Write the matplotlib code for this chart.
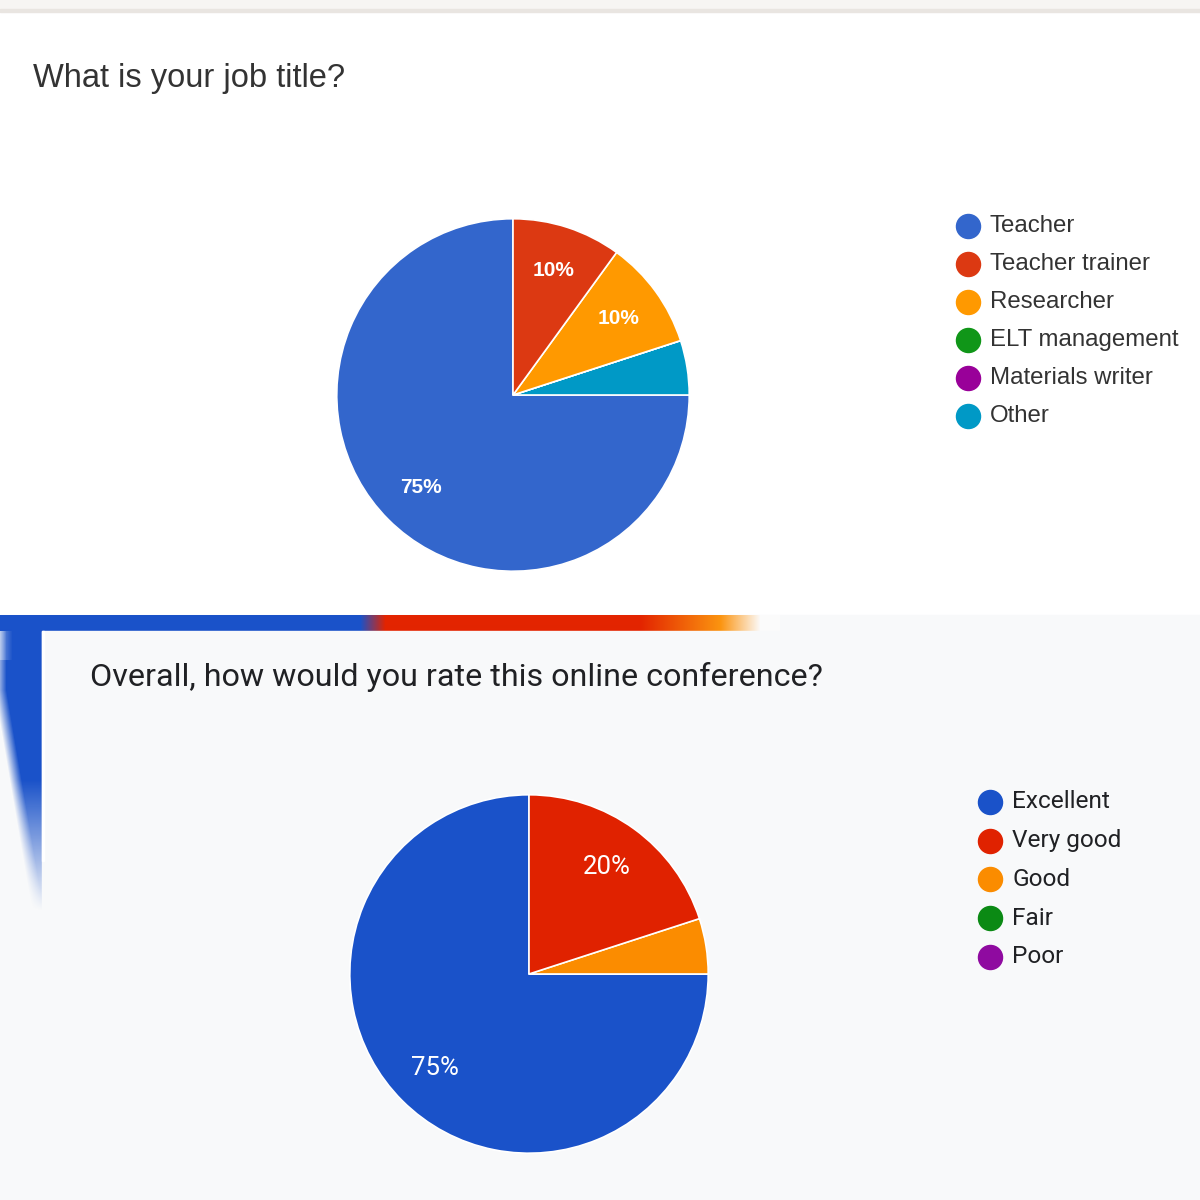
import numpy as np
import matplotlib.pyplot as plt
from matplotlib.patches import Rectangle
from matplotlib.colors import to_rgb

# ---- data ----
job_titles = ['Teacher', 'Teacher trainer', 'Researcher', 'ELT management',
              'Materials writer', 'Other']
job_share = [75, 10, 10, 0, 0, 5]
job_colors = ['#3366cc', '#dc3912', '#ff9900', '#109618', '#990099', '#0099c6']

ratings = ['Excellent', 'Very good', 'Good', 'Fair', 'Poor']
rating_share = [75, 20, 5, 0, 0]
rating_colors = ['#1a52c9', '#e02200', '#fb8c00', '#0b8a14', '#8f0aa0']

W, H = 1200, 1200
CARD = '#f8f9fa'


def px_axes(fig, cx, cy, r):
    """Square axes of radius r (px) centred at cx, cy (px from top-left)."""
    return fig.add_axes([(cx - r) / W, (H - cy - r) / H, 2 * r / W, 2 * r / H])


def draw_pie(ax, values, colors, pct_size, font, weight):
    # slices run counter-clockwise from 12 o'clock: first item, then the rest reversed
    order = [0] + list(range(len(values) - 1, 0, -1))
    vals = [values[i] for i in order]
    cols = [colors[i] for i in order]
    ax.pie(vals, colors=cols, startangle=90, counterclock=True, radius=1,
           autopct=lambda p: f'{p:.0f}%' if p >= 8 else '',
           pctdistance=0.74,
           wedgeprops=dict(edgecolor='white', linewidth=1.2),
           textprops=dict(color='white', fontsize=pct_size, family=font,
                          weight=weight))
    ax.set_xlim(-1.01, 1.01)
    ax.set_ylim(-1.01, 1.01)
    ax.set_aspect('equal')
    ax.axis('off')


def draw_legend(bg, labels, colors, x, y0, dy, size, font, color):
    for i, (lab, col) in enumerate(zip(labels, colors)):
        y = y0 + i * dy
        bg.scatter([x], [y], s=300, color=col, zorder=5)
        bg.text(x + 22, y, lab, fontsize=size, family=font, color=color,
                va='center', ha='left', zorder=5)


fig = plt.figure(figsize=(12, 12), dpi=100)
fig.patch.set_facecolor('white')

# background canvas in pixel coordinates
bg = fig.add_axes([0, 0, 1, 1])
bg.set_xlim(0, W)
bg.set_ylim(H, 0)
bg.axis('off')

# top strip of the first screenshot
bg.add_patch(Rectangle((0, 0), W, 10, color='#f7f5f3', zorder=0))
bg.add_patch(Rectangle((0, 9), W, 3, color='#e9e5e1', zorder=0))

# second screenshot base
bg.add_patch(Rectangle((0, 615), W, H - 615, color=CARD, zorder=0))

# coloured strip along the top edge (blue -> red -> orange -> fade)
blue, red, orange, white = [np.array(to_rgb(c)) for c in
                            ('#1a52c9', '#e32400', '#fb9410', '#fbfbfb')]
xs = np.arange(0, 780)
strip = np.zeros((1, len(xs), 3))
for j, x in enumerate(xs):
    if x < 360:
        c = blue
    elif x < 385:
        c = blue + (red - blue) * (x - 360) / 25
    elif x < 640:
        c = red
    elif x < 720:
        c = red + (orange - red) * (x - 640) / 80
    elif x < 760:
        c = orange + (white - orange) * (x - 720) / 40
    else:
        c = white
    strip[0, j] = c
bg.imshow(strip, extent=(0, 780, 631, 615), aspect='auto', zorder=1,
          interpolation='bilinear')

# blurred blue band on the left edge, narrowing and fading downwards
ys = np.arange(615, 930)
band = np.zeros((len(ys), 44, 4))
band[..., :3] = blue
for i, y in enumerate(ys):
    left = 0 if y < 690 else (y - 690) * 0.17
    fade = 1.0 if y < 780 else max(0.0, 1 - (y - 780) / 130)
    for x in range(44):
        a = np.clip((x - left) / 12 + 0.5, 0, 1) * fade
        if y < 660 and x < 12:
            a *= 0.6 + 0.4 * x / 12
        band[i, x, 3] = a
bg.imshow(band, extent=(0, 44, 930, 615), aspect='auto', zorder=1,
          interpolation='bilinear')

# card of the second screenshot
bg.add_patch(Rectangle((42, 631), W - 42, H - 631, color=CARD, zorder=2))
bg.add_patch(Rectangle((42, 631), 2, 230, color='white', zorder=2))

# titles
bg.text(33, 87, 'What is your job title?', fontsize=23.5, family='Liberation Sans',
        color='#333333', va='baseline', ha='left', zorder=5)
bg.text(90, 686, 'Overall, how would you rate this online conference?',
        fontsize=23.2, family='Roboto', color='#202124', va='baseline',
        ha='left', zorder=5)

# pies
ax1 = px_axes(fig, 513, 395, 178)
draw_pie(ax1, job_share, job_colors, 15, 'Liberation Sans', 'bold')
ax2 = px_axes(fig, 529, 974, 181)
draw_pie(ax2, rating_share, rating_colors, 18.5, 'Roboto', 'normal')

# legends
draw_legend(bg, job_titles, job_colors, 968, 226, 38, 17.3, 'Liberation Sans', '#333333')
draw_legend(bg, ratings, rating_colors, 990, 802, 38.7, 17.6, 'Roboto', '#202124')

fig.savefig('out.png', dpi=100)
